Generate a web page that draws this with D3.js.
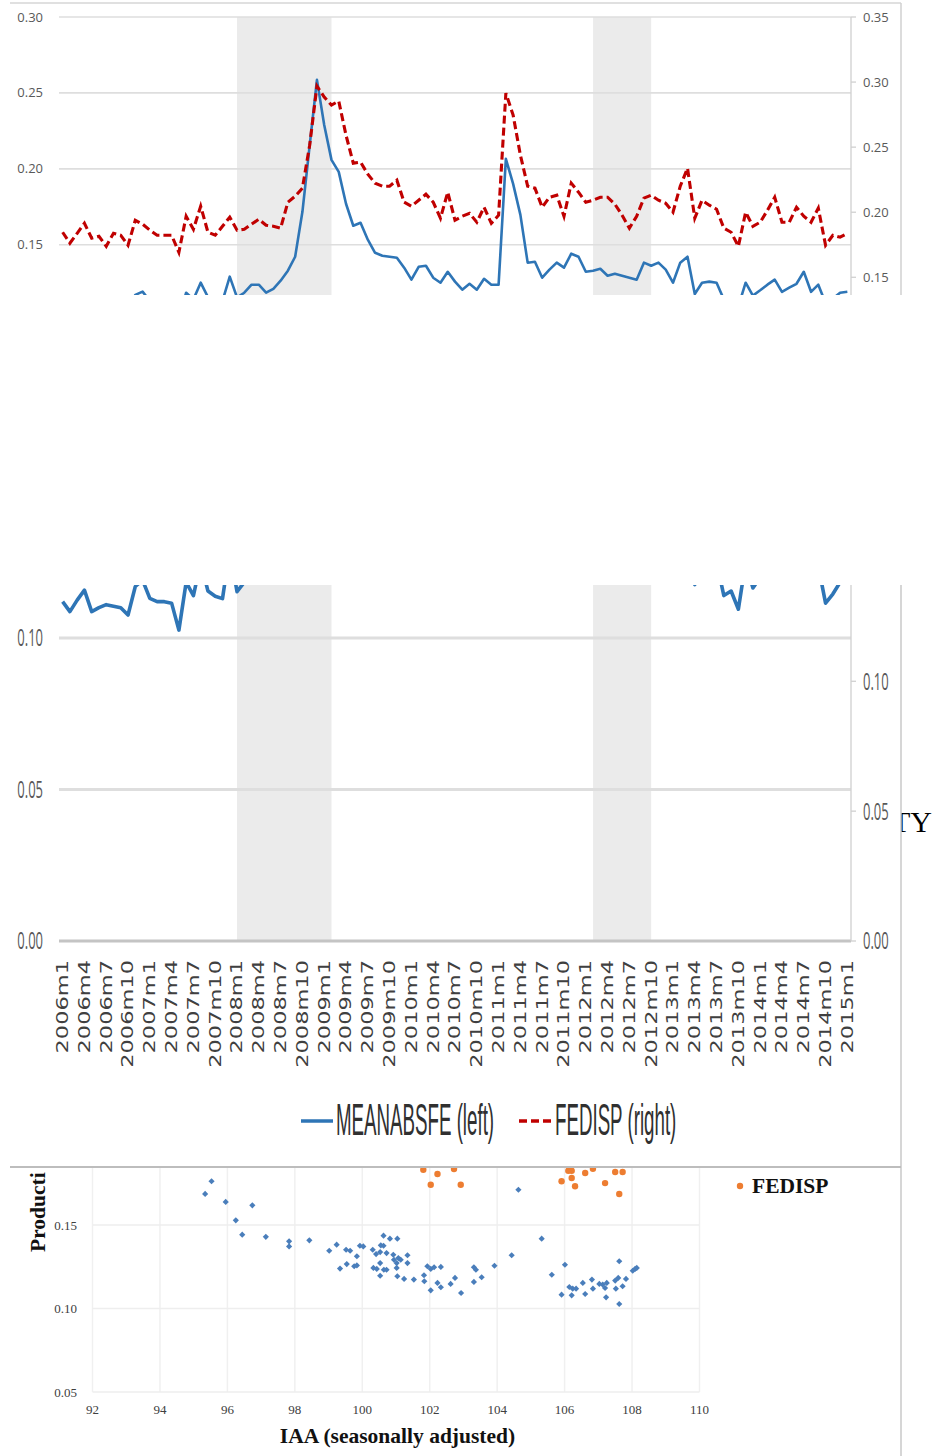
<!DOCTYPE html>
<html><head><meta charset="utf-8">
<script src="https://cdn.jsdelivr.net/npm/d3@7"></script>
<style>body{margin:0;background:#fff}svg{display:block}</style>
</head><body><svg id="c" width="934" height="1456"></svg>
<script>
// ---------- DATA ----------
const categories = [];
for (let y = 2006; y <= 2014; y++) for (let m = 1; m <= 12; m++) categories.push(y + "m" + m);
categories.push("2015m1");

const meanabsfe = [0.112,0.1087,0.1125,0.1158,0.1087,0.110,0.111,0.1105,0.110,0.1076,
0.117,0.1191,0.1131,0.112,0.112,0.1115,0.1026,0.1184,0.114,0.125,
0.1155,0.1138,0.113,0.129,0.1153,0.1184,0.1237,0.1237,0.1184,0.121,
0.1263,0.1329,0.1421,0.1717,0.2155,0.2586,0.2289,0.2059,0.198,0.177,
0.1625,0.1645,0.1533,0.1447,0.1428,0.1421,0.1414,0.1349,0.127,0.1355,
0.1362,0.1283,0.125,0.1322,0.1257,0.1204,0.1243,0.1204,0.1276,0.1237,
0.1237,0.2066,0.1901,0.1697,0.1382,0.1388,0.1283,0.1336,0.1382,0.1349,
0.1441,0.1421,0.1322,0.1329,0.1342,0.1296,0.1309,0.1296,0.1283,0.127,
0.1382,0.1362,0.1382,0.1336,0.125,0.1382,0.1421,0.1176,0.125,0.1257,
0.125,0.114,0.1155,0.1095,0.125,0.1165,0.12,0.1237,0.127,0.119,
0.1217,0.1243,0.1322,0.119,0.1237,0.1115,0.1145,0.1184,0.119];

const fedisp = [0.1846,0.1762,0.1838,0.1915,0.18,0.1815,0.1738,0.1838,0.1823,0.1746,
0.1938,0.1908,0.1862,0.1823,0.1823,0.1823,0.1692,0.1969,0.1869,0.2046,
0.1846,0.1823,0.1892,0.1962,0.1862,0.1869,0.1908,0.1946,0.19,0.1892,
0.1877,0.2077,0.2123,0.2185,0.2515,0.2969,0.2885,0.2823,0.2854,0.2592,
0.2377,0.2385,0.2292,0.2223,0.22,0.22,0.2246,0.2077,0.2046,0.2092,
0.2138,0.2077,0.1954,0.2154,0.1938,0.1969,0.1992,0.1923,0.2038,0.1915,
0.1977,0.2915,0.2746,0.2438,0.22,0.2185,0.2038,0.2115,0.2131,0.1969,
0.2223,0.2154,0.2077,0.2092,0.2115,0.2115,0.2062,0.1977,0.1877,0.1969,
0.2108,0.2131,0.2092,0.2069,0.2,0.22,0.2338,0.1954,0.2092,0.2054,
0.2023,0.1877,0.1846,0.1738,0.2,0.1892,0.1923,0.2015,0.2115,0.1923,
0.1923,0.2038,0.1969,0.1923,0.2031,0.1746,0.1823,0.1808,0.1838];

const leftTicks = [0, 0.05, 0.10, 0.15, 0.20, 0.25, 0.30];
const rightTicks = [0, 0.05, 0.10, 0.15, 0.20, 0.25, 0.30, 0.35];
const recessions = [["2008m1", "2009m2"], ["2012m2", "2012m10"]];
const xTickLabels = categories.filter((d, i) => i % 3 === 0);
const legendLabels = ["MEANABSFE (left)", "FEDISP (right)"];

// scatter
const scatIAA = [95.34,95.53,95.95,96.25,96.74,96.44,97.14,97.83,97.83,98.43,
99.02,99.24,99.34,99.52,99.54,99.64,99.76,99.84,99.84,99.93,
100.03,100.31,100.33,100.41,100.43,100.53,100.55,100.63,100.63,100.53,
100.53,100.64,100.72,100.72,100.82,101.04,100.92,100.94,101.02,101.07,
101.02,101.04,101.14,101.34,101.34,101.24,101.53,101.83,101.84,101.93,
102.03,102.13,102.33,102.03,102.23,102.33,102.62,102.75,102.93,103.31,
103.37,103.31,103.54,103.92,104.43,104.63,105.32,105.62,106.01,105.91,
106.14,106.24,106.21,106.34,106.54,106.61,106.81,106.84,107.03,107.13,
107.20,107.23,107.25,107.50,107.52,107.59,107.62,107.62,107.72,107.82,
108.02,108.09,108.14];
const scatMean = [0.1686,0.1762,0.1638,0.1528,0.1618,0.1442,0.1429,0.1402,0.1372,0.1408,
0.1346,0.1382,0.1239,0.1352,0.1266,0.1346,0.1253,0.1313,0.1258,0.1376,
0.1372,0.1352,0.1243,0.1326,0.1237,0.1338,0.1378,0.1436,0.1376,0.1272,
0.1196,0.1232,0.1232,0.1332,0.1418,0.1418,0.1322,0.1292,0.1272,0.1302,
0.1243,0.1193,0.1292,0.1319,0.1272,0.1177,0.1173,0.1199,0.1163,0.1253,
0.1237,0.1247,0.1249,0.1109,0.1153,0.1127,0.1147,0.1183,0.1093,0.1247,
0.1232,0.1159,0.1187,0.1256,0.1319,0.1711,0.1418,0.1202,0.1262,0.1083,
0.1129,0.1119,0.1079,0.1119,0.1153,0.1087,0.1173,0.1119,0.1147,0.1143,
0.1123,0.1067,0.1153,0.1167,0.1119,0.1183,0.1283,0.1027,0.1133,0.1177,
0.1226,0.1237,0.1243];
const scatFedIAA = [101.81,102.23,102.03,102.72,102.92,105.91,106.21,106.31,106.11,106.21,106.61,106.84,107.20,107.50,107.72,107.62];
const scatFed = [0.1831,0.1805,0.1741,0.1835,0.1741,0.1762,0.1781,0.1732,0.1825,0.1825,0.1811,0.1837,0.1751,0.1817,0.1817,0.1686];
const scatXTicks = [92,94,96,98,100,102,104,106,108,110];
const scatYTicks = [0.05,0.10,0.15,0.20];
const scatYLabels = [0.05,0.10,0.15];

// ---------- DRAW ----------
const svg = d3.select("#c");
svg.append("rect").attr("width",934).attr("height",1456).attr("fill","#fff");
const defs = svg.append("defs");
function clip(id,x,y,w,h){defs.append("clipPath").attr("id",id).append("rect").attr("x",x).attr("y",y).attr("width",w).attr("height",h);}
clip("cTop",0,0,934,295);
clip("cMid",0,585,934,583);
clip("cSc",0,1168,934,288);

// "TY" fragment behind mid panel
svg.append("text").attr("x",892).attr("y",832).attr("font-family","Liberation Serif, serif")
  .attr("font-size",30).attr("fill","#000").text("TY");

const x = d3.scalePoint().domain(categories).range([59,851]).padding(0.5);
const BLUE="#2e75b6", RED="#c00000";

function timeChart(g, y0, y1, sy, lw, lMin, lMax, rMin, rMax) {
  const yL = d3.scaleLinear().domain([0,0.30]).range([y0,y1]);
  const yR = d3.scaleLinear().domain([0,0.35]).range([y0,y1]);
  recessions.forEach(r=>{
    g.append("rect").attr("x",x(r[0])).attr("width",x(r[1])-x(r[0]))
     .attr("y",y1).attr("height",y0-y1).attr("fill","#ebebeb");
  });
  g.selectAll(null).data(leftTicks).enter().append("line")
    .attr("x1",59).attr("x2",851).attr("y1",d=>yL(d)).attr("y2",d=>yL(d))
    .attr("stroke",d=>d===0?"#c4c4c4":"#dedede").attr("stroke-width",1.6*sy);
  g.append("line").attr("x1",851).attr("x2",851).attr("y1",y1).attr("y2",y0).attr("stroke","#d0d0d0").attr("stroke-width",1.3);
  g.selectAll(null).data(rightTicks).enter().append("line")
    .attr("x1",851).attr("x2",856).attr("y1",d=>yR(d)).attr("y2",d=>yR(d)).attr("stroke","#d0d0d0").attr("stroke-width",1.3);
  g.selectAll(null).data(leftTicks.filter(d=>d>=lMin-1e-9&&d<=lMax+1e-9)).enter().append("text")
    .attr("transform",d=>`translate(43,${yL(d)}) scale(1,${sy})`).attr("dy","0.35em")
    .attr("text-anchor","end").attr("font-family","Open Sans, sans-serif").attr("font-size",13)
    .attr("fill","#595959").text(d=>d3.format(".2f")(d));
  g.selectAll(null).data(rightTicks.filter(d=>d>=rMin-1e-9&&d<=rMax+1e-9)).enter().append("text")
    .attr("transform",d=>`translate(863,${yR(d)}) scale(1,${sy})`).attr("dy","0.35em")
    .attr("text-anchor","start").attr("font-family","Open Sans, sans-serif").attr("font-size",13)
    .attr("fill","#595959").text(d=>d3.format(".2f")(d));
  g.append("path").datum(meanabsfe).attr("fill","none").attr("stroke",BLUE).attr("stroke-width",lw)
    .attr("stroke-linejoin","round")
    .attr("d",d3.line().x((d,i)=>x(categories[i])).y(d=>yL(d)));
  g.append("path").datum(fedisp).attr("fill","none").attr("stroke",RED).attr("stroke-width",lw+0.5)
    .attr("stroke-dasharray","8,4")
    .attr("d",d3.line().x((d,i)=>x(categories[i])).y(d=>yR(d)));
}

// top panel
const gTop = svg.append("g").attr("clip-path","url(#cTop)");
gTop.append("line").attr("x1",10).attr("x2",901).attr("y1",3).attr("y2",3).attr("stroke","#d6d6d6").attr("stroke-width",1.5);
gTop.append("line").attr("x1",901).attr("x2",901).attr("y1",3).attr("y2",295).attr("stroke","#d0d0d0").attr("stroke-width",1.5);
timeChart(gTop, 472.5, 17, 1, 2.6, 0.15, 0.30, 0.15, 0.35);

// middle (stretched) panel
const gMid = svg.append("g").attr("clip-path","url(#cMid)");
gMid.append("rect").attr("x",0).attr("y",585).attr("width",901).attr("height",583).attr("fill","#fff");
timeChart(gMid, 941, 941-0.30*3030, 1.85, 3.6, 0, 0.10, 0, 0.10);
gMid.selectAll(null).data(xTickLabels).enter().append("text")
  .attr("transform",d=>`translate(${x(d)},960) scale(1,1.5) rotate(-90)`)
  .attr("text-anchor","end").attr("dy","0.36em")
  .attr("font-family","DejaVu Sans, sans-serif").attr("font-size",15).attr("fill","#404040").text(d=>d);
// legend
gMid.append("line").attr("x1",301).attr("x2",333).attr("y1",1121).attr("y2",1121).attr("stroke",BLUE).attr("stroke-width",3.5);
gMid.append("text").attr("transform","translate(336,1135) scale(0.78,1.85)")
  .attr("font-family","Liberation Sans, sans-serif").attr("font-size",24).attr("fill","#303030").text(legendLabels[0]);
gMid.append("line").attr("x1",519).attr("x2",551).attr("y1",1121).attr("y2",1121).attr("stroke",RED).attr("stroke-width",3.5).attr("stroke-dasharray","8,4");
gMid.append("text").attr("transform","translate(555,1135) scale(0.78,1.85)")
  .attr("font-family","Liberation Sans, sans-serif").attr("font-size",24).attr("fill","#303030").text(legendLabels[1]);
gMid.append("line").attr("x1",901).attr("x2",901).attr("y1",585).attr("y2",1168).attr("stroke","#c8c8c8").attr("stroke-width",1.5);

// scatter panel
const gS = svg.append("g").attr("clip-path","url(#cSc)");
const sx = d3.scaleLinear().domain([92,110]).range([92.5,699.5]);
const sy = d3.scaleLinear().domain([0.05,0.20]).range([1392,1141.5]);
gS.selectAll(null).data(scatXTicks).enter().append("line")
  .attr("x1",d=>sx(d)).attr("x2",d=>sx(d)).attr("y1",sy(0.20)).attr("y2",sy(0.05))
  .attr("stroke","#f0f0f0").attr("stroke-width",1.5);
gS.selectAll(null).data(scatYTicks).enter().append("line")
  .attr("x1",sx(92)).attr("x2",sx(110)).attr("y1",d=>sy(d)).attr("y2",d=>sy(d))
  .attr("stroke","#eeeeee").attr("stroke-width",1.5);
gS.selectAll(null).data(scatYLabels).enter().append("text")
  .attr("x",77).attr("y",d=>sy(d)).attr("dy","0.35em").attr("text-anchor","end")
  .attr("font-family","Liberation Serif, serif").attr("font-size",13).attr("fill","#404040")
  .text(d=>d3.format(".2f")(d));
gS.selectAll(null).data(scatXTicks).enter().append("text")
  .attr("x",d=>sx(d)).attr("y",1414).attr("text-anchor","middle")
  .attr("font-family","Liberation Serif, serif").attr("font-size",13).attr("fill","#404040").text(d=>d);
const diamond = d3.symbol().type(d3.symbolSquare).size(19);
gS.selectAll(null).data(scatIAA).enter().append("path")
  .attr("d",diamond).attr("fill","#4a7ebb")
  .attr("transform",(d,i)=>`translate(${sx(d)},${sy(scatMean[i])}) rotate(45)`);
gS.selectAll(null).data(scatFedIAA).enter().append("circle")
  .attr("cx",d=>sx(d)).attr("cy",(d,i)=>sy(scatFed[i])).attr("r",3.2).attr("fill","#ed7d31");
gS.append("text").attr("x",397.5).attr("y",1443).attr("text-anchor","middle")
  .attr("font-family","Liberation Serif, serif").attr("font-weight","bold").attr("font-size",21.5)
  .attr("fill","#111").text("IAA (seasonally adjusted)");
gS.append("text").attr("transform","translate(45,1252) rotate(-90)")
  .attr("font-family","Liberation Serif, serif").attr("font-weight","bold").attr("font-size",21.5)
  .attr("fill","#111").text("Producti");
gS.append("circle").attr("cx",740).attr("cy",1186).attr("r",3.2).attr("fill","#ed7d31");
gS.append("text").attr("x",752).attr("y",1193)
  .attr("font-family","Liberation Serif, serif").attr("font-weight","bold").attr("font-size",21.5)
  .attr("fill","#111").text("FEDISP");
gS.append("line").attr("x1",901).attr("x2",901).attr("y1",1168).attr("y2",1456).attr("stroke","#c8c8c8").attr("stroke-width",1.5);

// divider between middle and scatter
svg.append("line").attr("x1",10).attr("x2",901).attr("y1",1167).attr("y2",1167).attr("stroke","#bdbdbd").attr("stroke-width",2);
</script></body></html>
